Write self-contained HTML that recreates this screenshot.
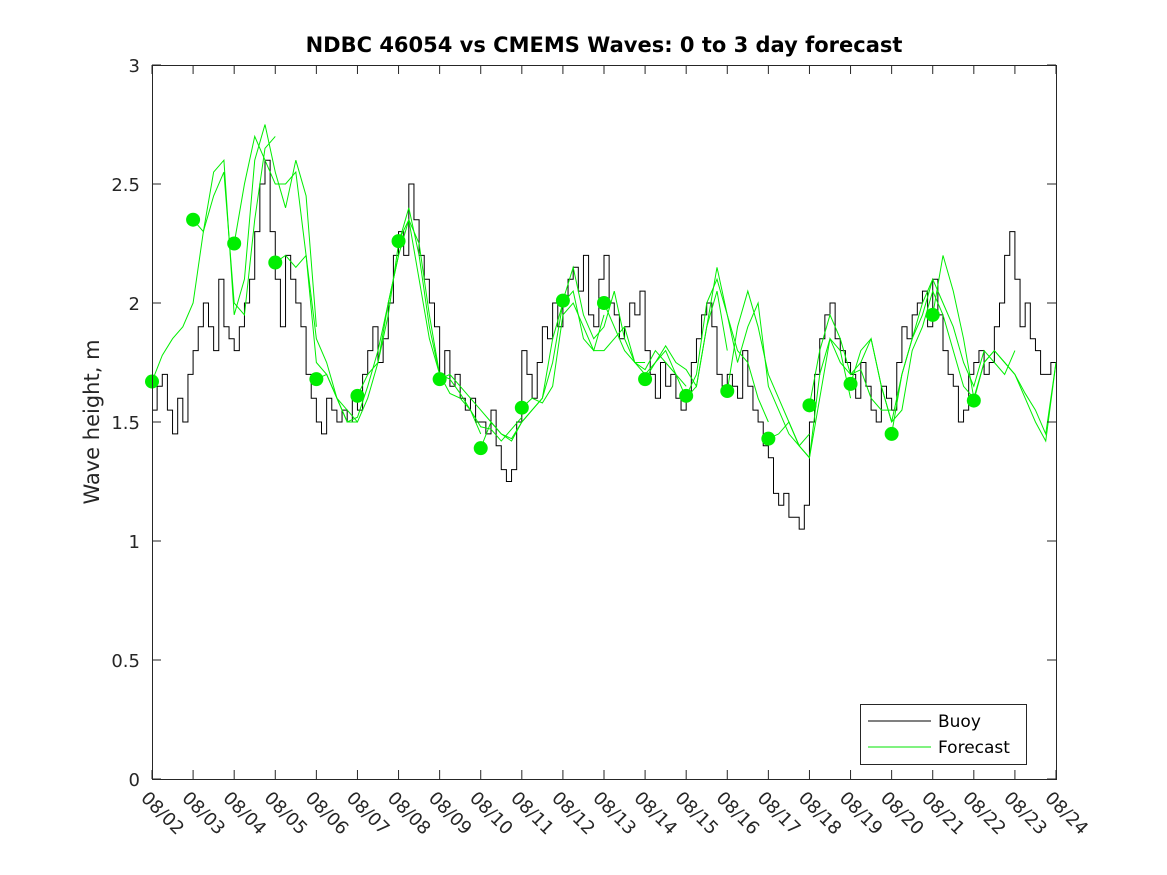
<!DOCTYPE html>
<html><head><meta charset="utf-8"><style>
html,body{margin:0;padding:0;background:#fff;}
svg{display:block;font-family:"DejaVu Sans","Liberation Sans",sans-serif;}
</style></head><body>
<svg id="chart" width="1167" height="875" viewBox="0 0 1167 875">
<rect x="0" y="0" width="1167" height="875" fill="#fff"/>
<text x="604" y="52" text-anchor="middle" font-size="21" font-weight="bold" fill="#000">NDBC 46054 vs CMEMS Waves: 0 to 3 day forecast</text>
<text transform="translate(99,422) rotate(-90)" text-anchor="middle" font-size="21" fill="#262626">Wave height, m</text>
<g id="plot"></g>
<g id="axes"></g>
<g>
<rect x="860.5" y="704.5" width="166" height="60" fill="#fff" stroke="#262626" stroke-width="1"/>
<line x1="868" y1="721" x2="931" y2="721" stroke="#000" stroke-width="1"/>
<text x="938" y="727" font-size="17" fill="#000">Buoy</text>
<line x1="868" y1="747" x2="931" y2="747" stroke="#00e600" stroke-width="1"/>
<text x="938" y="753" font-size="17" fill="#000">Forecast</text>
</g>
</svg>
<script>
const dayLabels=["08/02","08/03","08/04","08/05","08/06","08/07","08/08","08/09","08/10","08/11","08/12","08/13","08/14","08/15","08/16","08/17","08/18","08/19","08/20","08/21","08/22","08/23","08/24"];
const yTicks=[0,0.5,1,1.5,2,2.5,3];
// buoy, 3-hourly starting 08/02
const buoy=[
1.55,1.65,1.7,1.55,1.45,1.6,1.5,1.7,
1.8,1.9,2.0,1.9,1.8,2.1,1.9,1.85,
1.8,1.9,2.0,2.1,2.3,2.5,2.6,2.3,
2.1,1.9,2.2,2.1,2.0,1.9,1.7,1.6,
1.5,1.45,1.6,1.55,1.5,1.55,1.5,1.6,
1.55,1.7,1.8,1.9,1.75,1.85,2.0,2.2,
2.3,2.2,2.5,2.35,2.2,2.1,2.0,1.9,
1.7,1.8,1.65,1.7,1.6,1.55,1.6,1.5,
1.5,1.45,1.55,1.4,1.3,1.25,1.3,1.5,
1.8,1.7,1.6,1.75,1.9,1.85,2.0,1.9,
2.0,2.1,2.15,2.05,2.2,1.95,1.9,2.1,
2.2,2.0,1.95,1.85,1.9,2.0,1.95,2.05,
1.8,1.7,1.6,1.75,1.65,1.7,1.6,1.55,
1.6,1.75,1.85,1.95,2.0,1.9,1.7,1.65,
1.7,1.65,1.6,1.8,1.65,1.55,1.5,1.4,
1.35,1.2,1.15,1.2,1.1,1.1,1.05,1.15,
1.5,1.7,1.85,1.95,2.0,1.85,1.8,1.75,
1.7,1.6,1.75,1.65,1.55,1.5,1.65,1.6,
1.55,1.75,1.9,1.85,1.95,2.0,2.05,1.9,
2.1,1.95,1.8,1.7,1.65,1.5,1.55,1.7,
1.75,1.8,1.7,1.75,1.9,2.0,2.2,2.3,
2.1,1.9,2.0,1.85,1.8,1.7,1.7,1.75,
1.75];
// forecast runs, 6-hourly starting at run day
const runStart=[0,1,2,3,4,5,6,7,8,9,10,11,12,13,14,15,16,17,18,19,20];
const runs=[
[1.67,1.78,1.85,1.9,2.0,2.3,2.45,2.55,2.0,1.95,2.35,2.65,2.7],
[2.35,2.3,2.55,2.6,1.95,2.1,2.6,2.75,2.55,2.4,2.6,2.45,1.9],
[2.25,2.5,2.7,2.6,2.5,2.5,2.55,2.2,1.85,1.75,1.6,1.5,1.5],
[2.17,2.2,2.15,2.2,1.75,1.7,1.6,1.5,1.52,1.65,1.8,2.0,2.2],
[1.68,1.7,1.6,1.55,1.5,1.6,1.75,2.0,2.2,2.35,2.1,1.85,1.7],
[1.61,1.7,1.75,1.95,2.25,2.4,2.2,1.9,1.7,1.62,1.6,1.55,1.45],
[2.26,2.35,2.25,1.95,1.7,1.68,1.62,1.55,1.48,1.47,1.42,1.47,1.52],
[1.68,1.7,1.65,1.6,1.55,1.5,1.45,1.42,1.5,1.55,1.6,1.85,2.0],
[1.39,1.5,1.45,1.43,1.5,1.55,1.6,1.75,2.0,2.05,1.85,1.8,1.95],
[1.56,1.6,1.58,1.65,1.95,2.0,1.9,1.8,1.8,1.85,1.9,1.75,1.75],
[2.01,2.15,1.95,1.85,1.9,2.05,1.85,1.75,1.7,1.75,1.8,1.7,1.65],
[2.0,1.9,1.8,1.75,1.72,1.8,1.75,1.7,1.6,1.65,1.9,2.05,1.8],
[1.68,1.75,1.82,1.75,1.72,1.65,1.9,2.15,1.95,1.8,1.75,1.6,1.5],
[1.61,1.7,2.0,2.1,1.95,1.75,1.9,2.0,1.65,1.55,1.45,1.4,1.45],
[1.63,1.9,2.05,1.9,1.7,1.6,1.5,1.4,1.35,1.7,1.85,1.8,1.6],
[1.43,1.45,1.5,1.4,1.35,1.6,1.85,1.75,1.7,1.72,1.6,1.55,1.55],
[1.57,1.8,1.95,1.85,1.7,1.75,1.85,1.65,1.5,1.7,1.85,2.0,2.1],
[1.66,1.8,1.85,1.65,1.5,1.55,1.8,1.9,2.05,1.95,1.8,1.65,1.6],
[1.45,1.7,1.85,1.95,2.1,2.0,1.9,1.75,1.65,1.8,1.75,1.7,1.8],
[1.95,2.2,2.05,1.85,1.6,1.75,1.8,1.75,1.7,1.6,1.5,1.42,1.75],
[1.59,1.75,1.8,1.75,1.7,1.62,1.55,1.45,1.75]
];
const NS="http://www.w3.org/2000/svg";
const X0=152,X1=1056,Y0=779,Y1=65;
const xs=d=>X0+(X1-X0)*d/22;
const ys=v=>Y0-(Y0-Y1)*v/3;
const plot=document.getElementById('plot'),axes=document.getElementById('axes');
function mk(tag,attrs,parent){const e=document.createElementNS(NS,tag);for(const k in attrs)e.setAttribute(k,attrs[k]);parent.appendChild(e);return e;}
const frame=mk('rect',{x:X0+0.5,y:Y1+0.5,width:X1-X0,height:Y0-Y1,fill:'none',stroke:'#262626','stroke-width':1},axes);


// buoy step line
const step=0.125;
let d='';
buoy.forEach((v,i)=>{const y=ys(v);if(i===0)d+='M'+xs(0)+','+y;else d+='V'+y;if(i<buoy.length-1)d+='H'+xs((i+1)*step);});
const bl=mk('path',{d:d,fill:'none',stroke:'#000','stroke-width':1},plot);


// forecast runs
runs.forEach((r,k)=>{
 const pts=r.map((v,j)=>xs(Math.min(22,runStart[k]+j*0.25))+','+ys(v)).join(' ');
 const pl=mk('polyline',{points:pts,fill:'none',stroke:'#00ee00','stroke-width':1},plot);
 
 
});
runs.forEach((r,k)=>{
 const c=mk('circle',{cx:xs(runStart[k]),cy:ys(r[0]),r:7,fill:'#00ee00'},plot);
 
 
});
yTicks.forEach(v=>{
 const y=ys(v);
 mk('line',{x1:X0,y1:y,x2:X0+9,y2:y,stroke:'#262626'},axes);
 mk('line',{x1:X1-9,y1:y,x2:X1,y2:y,stroke:'#262626'},axes);
 const t=mk('text',{x:X0-12,y:y+7,'text-anchor':'end','font-size':18,fill:'#262626'},axes);
 t.textContent=String(v);
 
 
});
dayLabels.forEach((lab,i)=>{
 const x=xs(i);
 mk('line',{x1:x,y1:Y0,x2:x,y2:Y0-9,stroke:'#262626'},axes);
 mk('line',{x1:x,y1:Y1,x2:x,y2:Y1+9,stroke:'#262626'},axes);
 const t=mk('text',{transform:'translate('+(x-12)+',799) rotate(45)','font-size':18,fill:'#262626'},axes);
 t.textContent=lab;
 
 
});
</script>
</body></html>
